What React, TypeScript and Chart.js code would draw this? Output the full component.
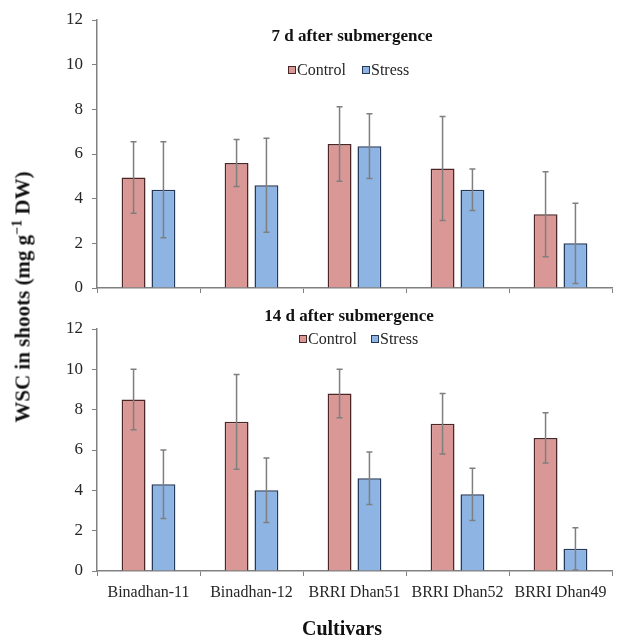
import React, { useEffect, useRef } from "react";
import { Chart, registerables } from "chart.js";

Chart.register(...registerables);

const cultivars = ["Binadhan-11", "Binadhan-12", "BRRI Dhan51", "BRRI Dhan52", "BRRI Dhan49"];
const seriesNames = ["Control", "Stress"];

const control7 = [4.95, 5.6, 6.45, 5.35, 3.3];
const controlErr7 = [1.6, 1.05, 1.67, 2.33, 1.9];
const stress7 = [4.4, 4.6, 6.35, 4.4, 2.0];
const stressErr7 = [2.15, 2.1, 1.45, 0.93, 1.8];

const control14 = [8.5, 7.4, 8.8, 7.3, 6.6];
const controlErr14 = [1.5, 2.35, 1.2, 1.5, 1.25];
const stress14 = [4.3, 4.0, 4.6, 3.8, 1.1];
const stressErr14 = [1.7, 1.6, 1.3, 1.3, 1.05];

const yTicks = [0, 2, 4, 6, 8, 10, 12];

const panelTitles = ["7 d after submergence", "14 d after submergence"];
const yAxisTitle = "WSC in shoots (mg g";
const xAxisTitle = "Cultivars";

const FONT = "'Liberation Serif', 'Times New Roman', serif";
const CONTROL_FILL = "#d99795";
const CONTROL_BORDER = "#4a2626";
const STRESS_FILL = "#8eb4e3";
const STRESS_BORDER = "#24395a";
const AXIS = "#808080";
const TEXT = "#262626";

const errorBarPlugin = {
  id: "errorBars",
  afterDatasetsDraw(chart: any) {
    const ctx = chart.ctx;
    const yScale = chart.scales.y;
    chart.data.datasets.forEach((ds: any, i: number) => {
      const meta = chart.getDatasetMeta(i);
      const errs: number[] = ds.errors || [];
      meta.data.forEach((el: any, j: number) => {
        const v = ds.data[j];
        const e = errs[j] || 0;
        const yTop = yScale.getPixelForValue(v + e);
        const yBot = yScale.getPixelForValue(Math.max(0, v - e));
        ctx.save();
        ctx.strokeStyle = "#7f7f7f";
        ctx.lineWidth = 1.5;
        ctx.beginPath();
        ctx.moveTo(el.x, yTop);
        ctx.lineTo(el.x, yBot);
        ctx.moveTo(el.x - 3, yTop);
        ctx.lineTo(el.x + 3, yTop);
        ctx.moveTo(el.x - 3, yBot);
        ctx.lineTo(el.x + 3, yBot);
        ctx.stroke();
        ctx.restore();
      });
    });
  },
};

const headerPlugin = {
  id: "panelHeader",
  afterDraw(chart: any, _args: any, opts: any) {
    const ctx = chart.ctx;
    ctx.save();
    ctx.fillStyle = "#111";
    ctx.font = `bold 17px ${FONT}`;
    ctx.textAlign = "center";
    ctx.textBaseline = "middle";
    ctx.fillText(opts.title, opts.titleX, opts.titleY);
    ctx.font = `16px ${FONT}`;
    ctx.textAlign = "left";
    const items = [
      { label: seriesNames[0], fill: CONTROL_FILL, border: CONTROL_BORDER, x: opts.legendX[0] },
      { label: seriesNames[1], fill: STRESS_FILL, border: STRESS_BORDER, x: opts.legendX[1] },
    ];
    items.forEach((it) => {
      ctx.fillStyle = it.fill;
      ctx.fillRect(it.x, opts.legendY - 4, 8, 8);
      ctx.strokeStyle = it.border;
      ctx.lineWidth = 1;
      ctx.strokeRect(it.x + 0.5, opts.legendY - 3.5, 7, 7);
      ctx.fillStyle = TEXT;
      ctx.fillText(it.label, it.x + 9, opts.legendY + 1);
    });
    ctx.restore();
  },
};

function makeConfig(
  control: number[],
  controlErr: number[],
  stress: number[],
  stressErr: number[],
  showLabels: boolean,
  padTop: number,
  xHeight: number,
  header: any
): any {
  return {
    type: "bar",
    data: {
      labels: cultivars,
      datasets: [
        {
          label: seriesNames[0],
          data: control,
          errors: controlErr,
          backgroundColor: CONTROL_FILL,
          borderColor: CONTROL_BORDER,
          borderWidth: 1.5,
          categoryPercentage: 0.58,
          barPercentage: 0.8,
        },
        {
          label: seriesNames[1],
          data: stress,
          errors: stressErr,
          backgroundColor: STRESS_FILL,
          borderColor: STRESS_BORDER,
          borderWidth: 1.5,
          categoryPercentage: 0.58,
          barPercentage: 0.8,
        },
      ],
    },
    options: {
      responsive: false,
      animation: false,
      devicePixelRatio: 1,
      layout: { padding: { top: padTop, right: 6, left: 0, bottom: 0 } },
      plugins: {
        legend: { display: false },
        title: { display: false },
        tooltip: { enabled: false },
        panelHeader: header,
      },
      scales: {
        x: {
          grid: {
            drawOnChartArea: false,
            drawTicks: true,
            tickLength: 5,
            tickColor: AXIS,
            offset: true,
          },
          border: { color: AXIS, width: 1.5 },
          ticks: {
            display: showLabels,
            autoSkip: false,
            maxRotation: 0,
            minRotation: 0,
            padding: 7,
            color: TEXT,
            font: { family: FONT, size: 16 },
          },
          afterFit: (s: any) => {
            s.height = xHeight;
          },
        },
        y: {
          min: yTicks[0],
          max: yTicks[yTicks.length - 1],
          afterBuildTicks: (s: any) => {
            s.ticks = yTicks.map((v) => ({ value: v }));
          },
          grid: {
            drawOnChartArea: false,
            drawTicks: true,
            tickLength: 5,
            tickColor: AXIS,
          },
          border: { color: AXIS, width: 1.5 },
          ticks: {
            padding: 9,
            color: TEXT,
            font: { family: FONT, size: 17 },
          },
          afterFit: (s: any) => {
            s.width = 97;
          },
        },
      },
    },
    plugins: [errorBarPlugin, headerPlugin],
  };
}

export default function App() {
  const topRef = useRef<HTMLCanvasElement>(null);
  const botRef = useRef<HTMLCanvasElement>(null);

  useEffect(() => {
    const top = new Chart(
      topRef.current as HTMLCanvasElement,
      makeConfig(control7, controlErr7, stress7, stressErr7, false, 20, 22, {
        title: panelTitles[0],
        titleX: 352,
        titleY: 37,
        legendX: [288, 362],
        legendY: 70,
      })
    );
    const bot = new Chart(
      botRef.current as HTMLCanvasElement,
      makeConfig(control14, controlErr14, stress14, stressErr14, true, 29, 66, {
        title: panelTitles[1],
        titleX: 349,
        titleY: 17,
        legendX: [299, 371],
        legendY: 39,
      })
    );
    return () => {
      top.destroy();
      bot.destroy();
    };
  }, []);

  return (
    <div
      style={{
        position: "absolute",
        left: 0,
        top: 0,
        width: 618,
        height: 637,
        background: "#fff",
        overflow: "hidden",
      }}
    >
      <canvas
        ref={topRef}
        width={618}
        height={310}
        style={{ position: "absolute", left: 0, top: 0, width: 618, height: 310 }}
      />
      <canvas
        ref={botRef}
        width={618}
        height={337}
        style={{ position: "absolute", left: 0, top: 300, width: 618, height: 337 }}
      />
      <div
        style={{
          position: "absolute",
          left: 22,
          top: 297,
          transform: "translate(-50%, -50%) rotate(-90deg)",
          whiteSpace: "nowrap",
          fontFamily: FONT,
          fontWeight: "bold",
          fontSize: 21,
          color: "#111",
          lineHeight: 1,
        }}
      >
        {yAxisTitle}
        <sup style={{ fontSize: 14 }}>−1</sup>
        {" DW)"}
      </div>
      <div
        style={{
          position: "absolute",
          left: 342,
          top: 628,
          transform: "translate(-50%, -50%)",
          whiteSpace: "nowrap",
          fontFamily: FONT,
          fontWeight: "bold",
          fontSize: 20,
          color: "#111",
          lineHeight: 1,
        }}
      >
        {xAxisTitle}
      </div>
    </div>
  );
}
